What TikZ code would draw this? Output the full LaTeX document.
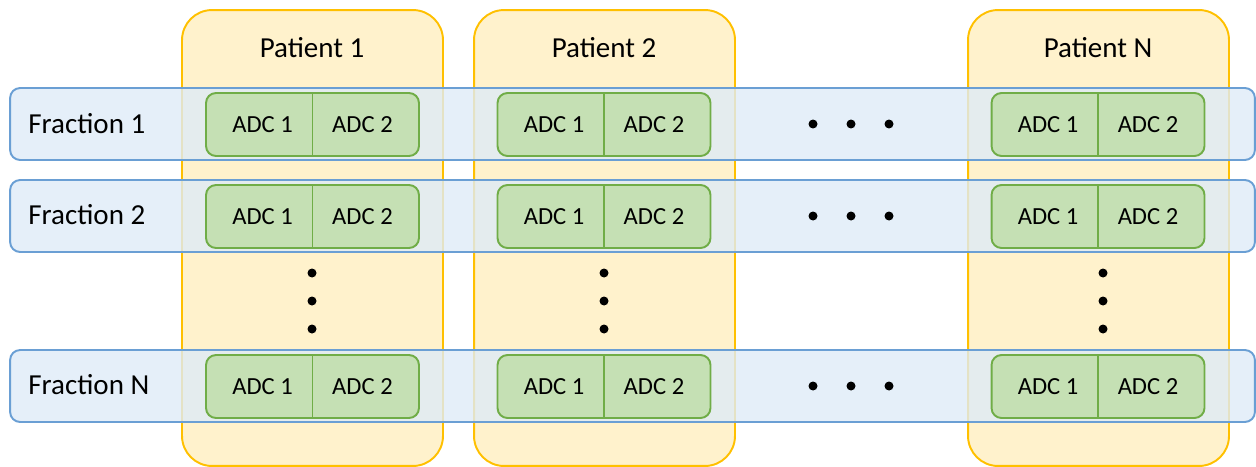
\documentclass[tikz,border=0pt]{standalone}
\usepackage{fontspec}
\setmainfont{Carlito}
\definecolor{patfill}{HTML}{FFF2CC}
\definecolor{patline}{HTML}{FFC000}
\definecolor{fracfill}{HTML}{DEEBF7}
\definecolor{fracline}{HTML}{6A9FD4}
\definecolor{adcfill}{HTML}{C5E0B4}
\definecolor{adcline}{HTML}{70AD47}
\tikzset{
  patient/.style={draw=patline, fill=patfill, line width=1.1pt, rounded corners=0.6cm,
    minimum width=5.22cm, minimum height=9.12cm, inner sep=0pt},
  fraction/.style={draw=fracline, fill=fracfill, fill opacity=0.8, line width=1.1pt,
    rounded corners=0.2cm, minimum width=24.9cm, minimum height=1.44cm, inner sep=0pt},
  adcbox/.style={draw=adcline, fill=adcfill, line width=1.1pt, rounded corners=0.2cm,
    minimum width=4.26cm, minimum height=1.26cm, inner sep=0pt},
  bigtext/.style={font=\fontsize{16.5}{20}\selectfont},
  adctext/.style={font=\fontsize{14}{17}\selectfont},
  dot/.style={circle, fill=black, inner sep=0pt, minimum size=0.18cm}
}
\begin{document}
\begin{tikzpicture}[x=0.02cm, y=-0.02cm]
\useasboundingbox (0,0) rectangle (1256,466);
% patients
\node[patient] (p1) at (312.5,238) {};
\node[patient] (p2) at (604.5,238) {};
\node[patient] (pN) at (1098.5,238) {};
\node[bigtext] (t1) at (312,48) {Patient 1};
\node[bigtext] (t2) at (604,48) {Patient 2};
\node[bigtext] (tN) at (1098,48) {Patient N};
% fractions
\node[fraction] (f1) at (632.5,124) {};
\node[fraction] (f2) at (632.5,216) {};
\node[fraction] (fN) at (632.5,386) {};
\node[bigtext, anchor=west, inner sep=0pt] (l1) at (28,124) {Fraction 1};
\node[bigtext, anchor=west, inner sep=0pt] (l2) at (28,215) {Fraction 2};
\node[bigtext, anchor=west, inner sep=0pt] (lN) at (28,385) {Fraction N};
% ADC pairs
\foreach \px/\pn in {312.5/1, 604/2, 1098/N}{
  \foreach \fy/\fn in {124.5/1, 216.5/2, 386.5/N}{
    \node[adcbox] (a\pn\fn) at (\px,\fy) {};
    \draw[adcline, line width=1.1pt] (a\pn\fn.north) -- (a\pn\fn.south);
    \node[adctext] at ([xshift=-1cm]a\pn\fn.center) {ADC 1};
    \node[adctext] at ([xshift=1cm]a\pn\fn.center) {ADC 2};
  }
}
% dots
\foreach \dy in {124, 216, 386}
  \foreach \dx in {813, 851, 889}
    \node[dot] at (\dx,\dy) {};
\foreach \dx in {312, 604, 1103}
  \foreach \dy in {273, 301, 329}
    \node[dot] at (\dx,\dy) {};
\end{tikzpicture}
\end{document}
